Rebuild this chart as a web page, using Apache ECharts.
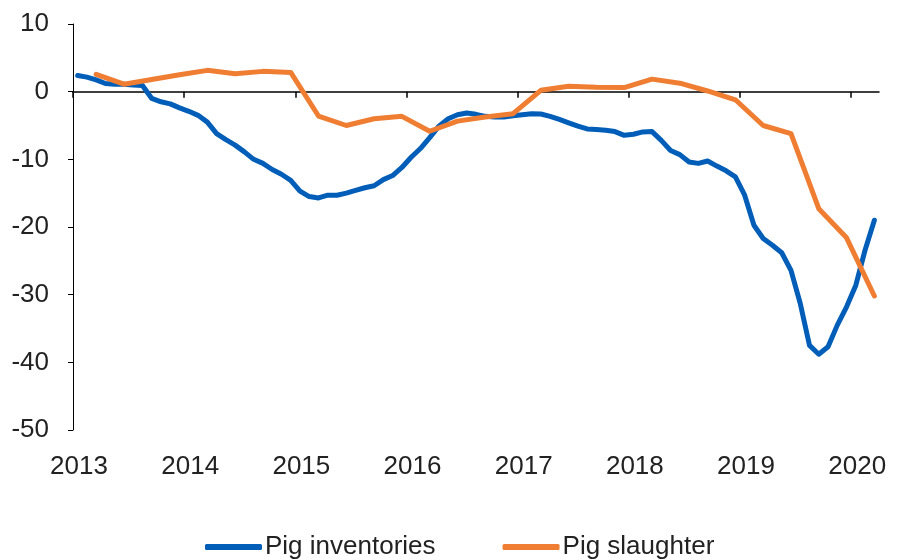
<!DOCTYPE html>
<html lang="en">
<head>
    <meta charset="utf-8" />
    <title>Pig inventories and slaughter</title>
    <script src="https://cdn.jsdelivr.net/npm/echarts@6/dist/echarts.min.js"></script>
</head>
<body style="margin:0">
    <div id="main" style="width:900px;height:560px"></div>
    <script>
        // monthly readings, year-on-year %
        var invMonths = [
            '2013-01','2013-02','2013-03','2013-04','2013-05','2013-06','2013-07','2013-08','2013-09','2013-10','2013-11','2013-12',
            '2014-01','2014-02','2014-03','2014-04','2014-05','2014-06','2014-07','2014-08','2014-09','2014-10','2014-11','2014-12',
            '2015-01','2015-02','2015-03','2015-04','2015-05','2015-06','2015-07','2015-08','2015-09','2015-10','2015-11','2015-12',
            '2016-01','2016-02','2016-03','2016-04','2016-05','2016-06','2016-07','2016-08','2016-09','2016-10','2016-11','2016-12',
            '2017-01','2017-02','2017-03','2017-04','2017-05','2017-06','2017-07','2017-08','2017-09','2017-10','2017-11','2017-12',
            '2018-01','2018-02','2018-03','2018-04','2018-05','2018-06','2018-07','2018-08','2018-09','2018-10','2018-11','2018-12',
            '2019-01','2019-02','2019-03','2019-04','2019-05','2019-06','2019-07','2019-08','2019-09','2019-10','2019-11','2019-12',
            '2020-01','2020-02','2020-03'
        ];
        var invValues = [
            2.4, 2.15, 1.75, 1.2, 1.1, 1.1, 1.0, 0.9, -1.0, -1.5, -1.8, -2.4,
            -2.9, -3.5, -4.5, -6.2, -7.1, -7.9, -8.9, -10.0, -10.6, -11.5, -12.2, -13.1,
            -14.7, -15.5, -15.7, -15.3, -15.3, -15.0, -14.6, -14.2, -13.9, -13.0, -12.4, -11.2,
            -9.7, -8.4, -6.8, -5.1, -4.0, -3.4, -3.15, -3.35, -3.65, -3.75, -3.75, -3.55,
            -3.4, -3.25, -3.3, -3.65, -4.1, -4.6, -5.1, -5.5, -5.6, -5.7, -5.9, -6.45,
            -6.3, -5.95, -5.9, -7.2, -8.7, -9.3, -10.4, -10.6, -10.25, -11.0, -11.7, -12.6,
            -15.3, -19.75, -21.7, -22.7, -23.8, -26.4, -31.3, -37.5, -38.8, -37.7, -34.5, -31.8,
            -28.6, -23.4, -19.0
        ];

        // quarterly readings
        var slaMonths = [
            '2013-03','2013-06','2013-09','2013-12',
            '2014-03','2014-06','2014-09','2014-12',
            '2015-03','2015-06','2015-09','2015-12',
            '2016-03','2016-06','2016-09','2016-12',
            '2017-03','2017-06','2017-09','2017-12',
            '2018-03','2018-06','2018-09','2018-12',
            '2019-03','2019-06','2019-09','2019-12',
            '2020-03'
        ];
        var slaValues = [
            2.55, 1.1, 1.8, 2.5,
            3.15, 2.65, 3.0, 2.85,
            -3.6, -5.0, -4.0, -3.65,
            -5.85, -4.35, -3.75, -3.25,
            0.2, 0.8, 0.65, 0.6,
            1.85, 1.25, 0.1, -1.2,
            -5.0, -6.2, -17.3, -21.6,
            -30.2
        ];

        var yearTicks = [2013, 2014, 2015, 2016, 2017, 2018, 2019, 2020];

        // month string -> decimal year at mid-month
        function toYear(s) {
            var p = s.split('-');
            return Number(p[0]) + (Number(p[1]) - 0.5) / 12;
        }
        function pairs(months, values) {
            return months.map(function (m, i) { return [toYear(m), values[i]]; });
        }

        var font = '"Liberation Sans", Arial, sans-serif';
        var myChart = echarts.init(document.getElementById('main'));

        var option = {
            animation: false,
            grid: { left: 73, right: 21, top: 24, bottom: 130, containLabel: false, outerBoundsMode: 'none' },
            legend: {
                left: 200,
                top: 529,
                icon: 'roundRect',
                itemWidth: 57,
                itemHeight: 6,
                itemGap: 67,
                textStyle: { fontFamily: font, fontSize: 26, color: '#222', padding: [0, 0, 0, -2] },
                data: ['Pig inventories', 'Pig slaughter']
            },
            xAxis: [{
                type: 'value',
                min: 2013,
                max: 2020.25,
                axisLine: { onZero: true, lineStyle: { color: '#000', width: 1.5 } },
                axisTick: { show: true, length: 6, customValues: yearTicks, lineStyle: { color: '#000', width: 1.5 } },
                axisLabel: { show: false },
                splitLine: { show: false }
            }, {
                type: 'value',
                position: 'bottom',
                min: 2013,
                max: 2020.25,
                axisLine: { show: false },
                axisTick: { show: false },
                splitLine: { show: false },
                axisLabel: {
                    customValues: yearTicks,
                    margin: 24,
                    padding: [0, 0, 0, 12],
                    fontFamily: font,
                    fontSize: 26,
                    color: '#222',
                    formatter: function (v) { return String(Math.round(v)); }
                }
            }],
            yAxis: {
                type: 'value',
                min: -50,
                max: 10,
                interval: 10,
                axisLine: { show: true, lineStyle: { color: '#000', width: 1 } },
                axisTick: { show: true, length: 5, lineStyle: { color: '#000' } },
                splitLine: { show: false },
                axisLabel: { margin: 24, fontFamily: font, fontSize: 26, color: '#222' }
            },
            series: [{
                name: 'Pig inventories',
                type: 'line',
                xAxisIndex: 0,
                showSymbol: false,
                symbol: 'none',
                color: '#005EB8',
                lineStyle: { width: 5, join: 'round', cap: 'round' },
                data: pairs(invMonths, invValues)
            }, {
                name: 'Pig slaughter',
                type: 'line',
                xAxisIndex: 0,
                showSymbol: false,
                symbol: 'none',
                color: '#EF7D32',
                lineStyle: { width: 5, join: 'round', cap: 'round' },
                data: pairs(slaMonths, slaValues)
            }]
        };

        myChart.setOption(option);
    </script>
</body>
</html>
